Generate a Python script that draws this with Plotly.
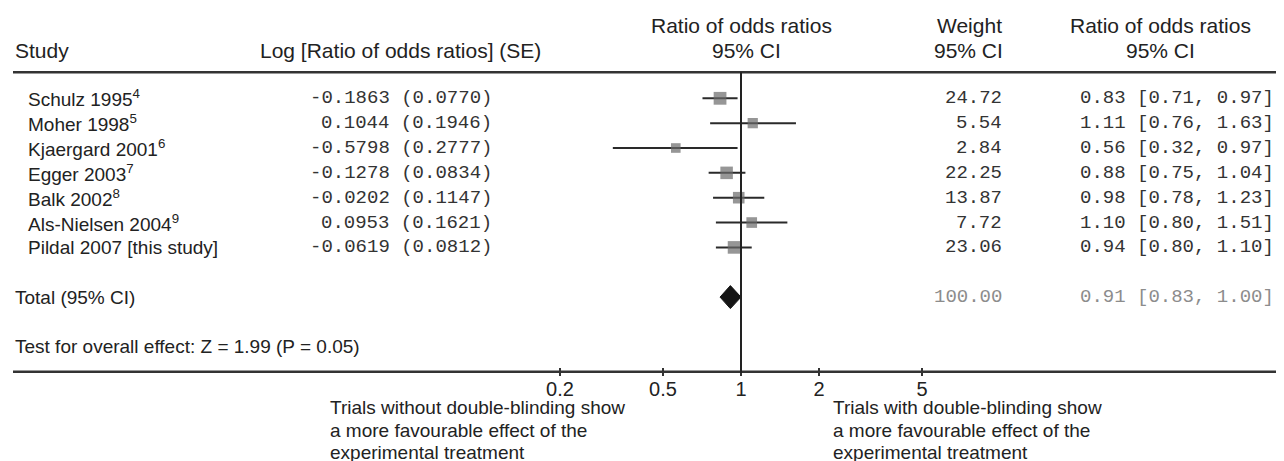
import plotly.graph_objects as go
import math

# ---------------- data ----------------
studies = ["Schulz 1995", "Moher 1998", "Kjaergard 2001", "Egger 2003",
           "Balk 2002", "Als-Nielsen 2004", "Pildal 2007 [this study]"]
refs = ["4", "5", "6", "7", "8", "9", ""]
log_ror = [-0.1863, 0.1044, -0.5798, -0.1278, -0.0202, 0.0953, -0.0619]
log_se = [0.0770, 0.1946, 0.2777, 0.0834, 0.1147, 0.1621, 0.0812]
weights = [24.72, 5.54, 2.84, 22.25, 13.87, 7.72, 23.06]
ror = [0.83, 1.11, 0.56, 0.88, 0.98, 1.10, 0.94]
ci_lo = [0.71, 0.76, 0.32, 0.75, 0.78, 0.80, 0.80]
ci_hi = [0.97, 1.63, 0.97, 1.04, 1.23, 1.51, 1.10]
total_ror, total_lo, total_hi, total_weight = 0.91, 0.83, 1.00, 100.00
test_text = "Test for overall effect: Z = 1.99 (P = 0.05)"
tick_vals = [0.2, 0.5, 1, 2, 5]
tick_text = ["0.2", "0.5", "1", "2", "5"]
left_note = ["Trials without double-blinding show", "a more favourable effect of the", "experimental treatment"]
right_note = ["Trials with double-blinding show", "a more favourable effect of the", "experimental treatment"]

# ---------------- layout constants ----------------
PAGE_W, PAGE_H = 1284, 461
OFF = 8                                  # default body margin of the page
W, H = PAGE_W - OFF, PAGE_H - OFF        # figure size
ROW0_PX, ROW_PX = 98.3, 24.85            # page pixel centre of first study row, row pitch
CENTER_PX, DECADE_PX = 741, 259          # page pixel of ratio=1, pixels per decade
SANS = "Liberation Sans, Arial, Helvetica, sans-serif"
MONO = "Liberation Mono, Courier New, monospace"
FS = 19
FS_HEAD = 21
INK = "#222222"
MONO_INK = "#333333"
GREY_TXT = "#8c8c8c"
SQ = "#6a6a6a"

def row_of(py):
    return (py - ROW0_PX) / ROW_PX

def px(x):
    return (x - OFF) / W

n = len(studies)
rows = list(range(n))
total_row = n + 1
test_row = n + 3
axis_row = n + 4
header_rule_row = row_of(72.3)

fig = go.Figure()

# CI lines + squares
fig.add_trace(go.Scatter(
    x=ror, y=rows, mode="markers",
    marker=dict(symbol="square", color=SQ,
                size=[8 + 4.8 * math.sqrt(w / 25) for w in weights],
                line=dict(width=0)),
    error_x=dict(type="data", symmetric=False,
                 array=[h - r for h, r in zip(ci_hi, ror)],
                 arrayminus=[r - l for r, l in zip(ror, ci_lo)],
                 color="#2a2a2a", thickness=2, width=0),
    hoverinfo="skip", showlegend=False))

# total diamond
half_h = 11.5 / ROW_PX
fig.add_trace(go.Scatter(
    x=[total_lo, total_ror, total_hi, total_ror, total_lo],
    y=[total_row, total_row - half_h, total_row, total_row + half_h, total_row],
    mode="lines", fill="toself", fillcolor="#151515",
    line=dict(color="#151515", width=1),
    hoverinfo="skip", showlegend=False))

shapes = [
    dict(type="line", xref="paper", yref="y", x0=px(13), x1=1, y0=header_rule_row, y1=header_rule_row,
         line=dict(color="#333333", width=2.5)),
    dict(type="line", xref="paper", yref="y", x0=px(13), x1=1, y0=axis_row, y1=axis_row,
         line=dict(color="#333333", width=2.5)),
    dict(type="line", xref="x", yref="y", x0=1, x1=1, y0=header_rule_row, y1=axis_row + 0.05,
         line=dict(color=INK, width=2)),
]

ann = []

def text(x_px, y_row, s, anchor="left", font=SANS, color=INK, size=FS):
    ann.append(dict(x=px(x_px), y=y_row, xref="paper", yref="y", text=s, showarrow=False,
                    xanchor=anchor, yanchor="middle",
                    font=dict(family=font, size=size, color=color)))

# headers
text(13, row_of(50), "Study", size=FS_HEAD)
text(400.5, row_of(50), "Log [Ratio of odds ratios] (SE)", anchor="center", size=FS_HEAD)
text(741, row_of(25), "Ratio of odds ratios", anchor="center", size=FS_HEAD)
text(746, row_of(50), "95% CI", anchor="center", size=FS_HEAD)
text(1004, row_of(25), "Weight", anchor="right", size=FS_HEAD)
text(1005, row_of(50), "95% CI", anchor="right", size=FS_HEAD)
text(1160, row_of(25), "Ratio of odds ratios", anchor="center", size=FS_HEAD)
text(1160, row_of(50), "95% CI", anchor="center", size=FS_HEAD)

# study rows
for i in range(n):
    label = studies[i] + (f"<sup>{refs[i]}</sup>" if refs[i] else "")
    text(26, rows[i], label)
    text(494, rows[i], f"{log_ror[i]:.4f} ({log_se[i]:.4f})", anchor="right", font=MONO, color=MONO_INK)
    text(1003.5, rows[i], f"{weights[i]:.2f}", anchor="right", font=MONO, color=MONO_INK)
    text(1276, rows[i], f"{ror[i]:.2f} [{ci_lo[i]:.2f}, {ci_hi[i]:.2f}]", anchor="right", font=MONO, color=MONO_INK)

# total row
text(13, total_row, "Total (95% CI)")
text(1003.5, total_row, f"{total_weight:.2f}", anchor="right", font=MONO, color=GREY_TXT)
text(1276, total_row, f"{total_ror:.2f} [{total_lo:.2f}, {total_hi:.2f}]", anchor="right", font=MONO, color=GREY_TXT)

# test
text(13, test_row, test_text)

# notes under axis
for k, (a, b) in enumerate(zip(left_note, right_note)):
    yrow = row_of([407.5, 430, 452][k])
    text(328, yrow, a)
    text(831, yrow, b)

x_lo = -(CENTER_PX - OFF) / DECADE_PX
x_hi = (PAGE_W - CENTER_PX) / DECADE_PX

fig.update_layout(
    width=W, height=H, autosize=False,
    margin=dict(l=0, r=0, t=0, b=0),
    paper_bgcolor="white", plot_bgcolor="white",
    shapes=shapes, annotations=ann,
    xaxis=dict(type="log", range=[x_lo, x_hi], domain=[0, 1],
               anchor="free", position=1 - (367 - OFF) / H,
               tickvals=tick_vals, ticktext=tick_text,
               ticks="outside", ticklen=8, tickwidth=2, tickcolor="#333333",
               ticklabelstandoff=-4,
               showgrid=False, zeroline=False, showline=False,
               tickfont=dict(family=SANS, size=20, color=INK)),
    yaxis=dict(range=[row_of(PAGE_H), row_of(OFF)], domain=[0, 1], visible=False,
               showgrid=False, zeroline=False),
)

fig.write_html("out.html")
